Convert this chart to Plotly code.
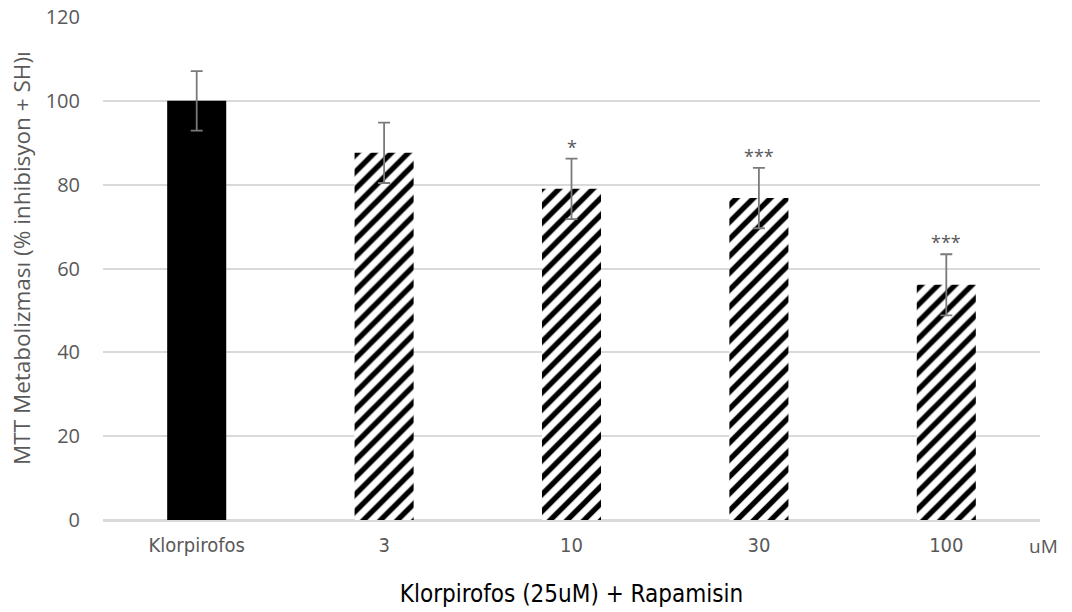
import plotly.graph_objects as go

# Cell viability data: chlorpyrifos alone and with rising rapamycin doses
categories = ["Klorpirofos", "3", "10", "30", "100"]
values = [100.0, 87.6, 79.0, 76.8, 56.1]
errors = [7.1, 7.2, 7.2, 7.2, 7.3]
significance = ["", "", "*", "***", "***"]

GRAY_TXT = "#595959"
ERR_CLR = "#7a7a7a"
BAR_W = 0.315
NARROW = "DejaVu Sans Condensed, Liberation Sans Narrow, Open Sans, sans-serif"

fig = go.Figure()

# Control bar (solid) and treatment bars (diagonal hatch)
fig.add_trace(go.Bar(
    x=categories[:1], y=values[:1],
    marker=dict(color="black", line=dict(width=0), opacity=1),
    width=BAR_W,
    error_y=dict(type="data", array=errors[:1], color=ERR_CLR, thickness=1.8, width=6),
    showlegend=False,
))
fig.add_trace(go.Bar(
    x=categories[1:], y=values[1:],
    marker=dict(
        color="white",
        opacity=1,
        line=dict(width=0),
        pattern=dict(shape="/", fgcolor="black", bgcolor="white", size=12,
                     solidity=0.45, fgopacity=1),
    ),
    width=BAR_W,
    error_y=dict(type="data", array=errors[1:], color=ERR_CLR, thickness=1.8, width=6),
    showlegend=False,
))

# Significance markers above the error bars
for i, (v, e, s) in enumerate(zip(values, errors, significance)):
    if s:
        fig.add_annotation(
            x=i, y=v + e, text=s, showarrow=False,
            yanchor="bottom", yshift=-2,
            font=dict(family="Open Sans, sans-serif", size=18, color=GRAY_TXT),
        )

# Unit label at the end of the category axis
fig.add_annotation(
    x=1.0, xref="paper", y=-0.052, yref="paper", text="uM", showarrow=False,
    xanchor="left", yanchor="middle", xshift=-13,
    font=dict(family="Open Sans, sans-serif", size=19, color=GRAY_TXT),
)

# Vertical axis title
fig.add_annotation(
    x=0, xref="paper", y=0.521, yref="paper",
    text="MTT Metabolizması (% inhibisyon + SH)ı", showarrow=False,
    textangle=-90, xanchor="center", yanchor="middle", xshift=-81,
    font=dict(family="Open Sans, sans-serif", size=22.5, color=GRAY_TXT),
)

fig.update_layout(
    width=1072, height=612,
    margin=dict(l=103, r=32, t=17, b=92),
    plot_bgcolor="white", paper_bgcolor="white",
    barmode="overlay",
    xaxis=dict(
        type="category",
        categoryorder="array", categoryarray=categories,
        range=[-0.5, len(categories) - 0.5],
        automargin=False,
        tickfont=dict(family=NARROW, size=20, color=GRAY_TXT),
        tickangle=0,
        title=dict(text="Klorpirofos (25uM) + Rapamisin",
                   font=dict(family=NARROW, size=24, color="#000000"),
                   standoff=29),
        showline=True, linecolor="#d9d9d9", linewidth=1.5,
        ticks="", ticklabelstandoff=6,
    ),
    yaxis=dict(
        range=[0, 120], dtick=20,
        automargin=False,
        tickfont=dict(family="Open Sans, sans-serif", size=20, color=GRAY_TXT),
        showgrid=True, gridcolor="#d9d9d9", gridwidth=1.5,
        zeroline=True, zerolinecolor="#d9d9d9", zerolinewidth=1.5,
        ticks="", ticklabelstandoff=22,
    ),
)

fig.write_html("out.html")
